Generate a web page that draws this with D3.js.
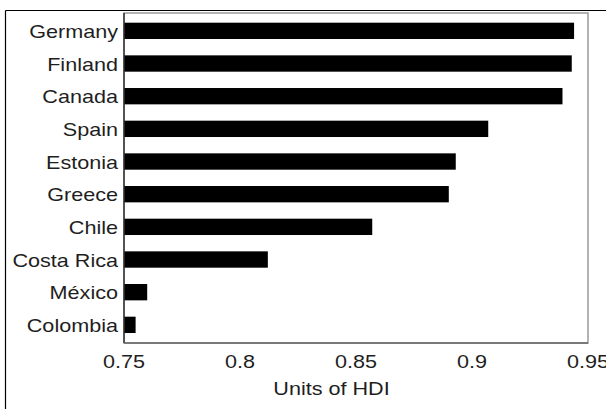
<!DOCTYPE html>
<html>
<head>
<meta charset="utf-8">
<script src="https://cdn.jsdelivr.net/npm/d3@7"></script>
<style>
  html, body { margin: 0; padding: 0; background: #fff; }
  svg { display: block; }
  text { font-family: "Liberation Sans", Arial, sans-serif; fill: #1e1e1e; }
</style>
</head>
<body>
<svg id="chart" width="606" height="409"></svg>
<script>
const countries = ["Germany", "Finland", "Canada", "Spain", "Estonia", "Greece", "Chile", "Costa Rica", "México", "Colombia"];
const hdi = [0.944, 0.943, 0.939, 0.907, 0.893, 0.890, 0.857, 0.812, 0.760, 0.755];
const xTicks = [0.75, 0.8, 0.85, 0.9, 0.95];
const xTickLabels = ["0.75", "0.8", "0.85", "0.9", "0.95"];
const xTitle = "Units of HDI";

const svg = d3.select("#chart");
const plot = { left: 124, right: 588, top: 13, bottom: 343 };
const stretch = 1.2;

const x = d3.scaleLinear().domain([0.75, 0.95]).range([plot.left, plot.right]);
const y = d3.scaleBand().domain(countries).range([6.35, 349.35]).padding(0.5);

// outer frame (top & left)
svg.append("line").attr("x1", 5.5).attr("x2", 606).attr("y1", 10.5).attr("y2", 10.5)
  .attr("stroke", "#000").attr("stroke-width", 1.2);
svg.append("line").attr("x1", 5.5).attr("x2", 5.5).attr("y1", 10.5).attr("y2", 409)
  .attr("stroke", "#000").attr("stroke-width", 1.2);

// plot box
svg.append("rect")
  .attr("x", plot.left).attr("y", plot.top)
  .attr("width", plot.right - plot.left).attr("height", plot.bottom - plot.top)
  .attr("fill", "none").attr("stroke", "#9a9a9a").attr("stroke-width", 1.5);

// bars
svg.append("g").selectAll("rect").data(countries).join("rect")
  .attr("x", x(0.75))
  .attr("y", d => y(d))
  .attr("width", (d, i) => x(hdi[i]) - x(0.75))
  .attr("height", y.bandwidth())
  .attr("fill", "#000");

// left axis line
svg.append("line").attr("x1", plot.left).attr("x2", plot.left)
  .attr("y1", plot.top).attr("y2", plot.bottom)
  .attr("stroke", "#333").attr("stroke-width", 1.5);
// bottom axis line
svg.append("line").attr("x1", plot.left).attr("x2", plot.right)
  .attr("y1", plot.bottom).attr("y2", plot.bottom)
  .attr("stroke", "#666").attr("stroke-width", 1.5);

// category labels
svg.append("g").selectAll("text").data(countries).join("text")
  .attr("transform", d => `translate(118,${y(d) + y.bandwidth() / 2 + 7}) scale(${stretch},1)`)
  .attr("text-anchor", "end")
  .attr("font-size", 18)
  .text(d => d);

// x tick labels
svg.append("g").selectAll("text").data(xTicks).join("text")
  .attr("transform", d => `translate(${x(d)},368) scale(${stretch},1)`)
  .attr("text-anchor", "middle")
  .attr("font-size", 18)
  .text((d, i) => xTickLabels[i]);

// x title
svg.append("text")
  .attr("transform", `translate(331.5,395) scale(${stretch},1)`)
  .attr("text-anchor", "middle")
  .attr("font-size", 18)
  .text(xTitle);
</script>
</body>
</html>
